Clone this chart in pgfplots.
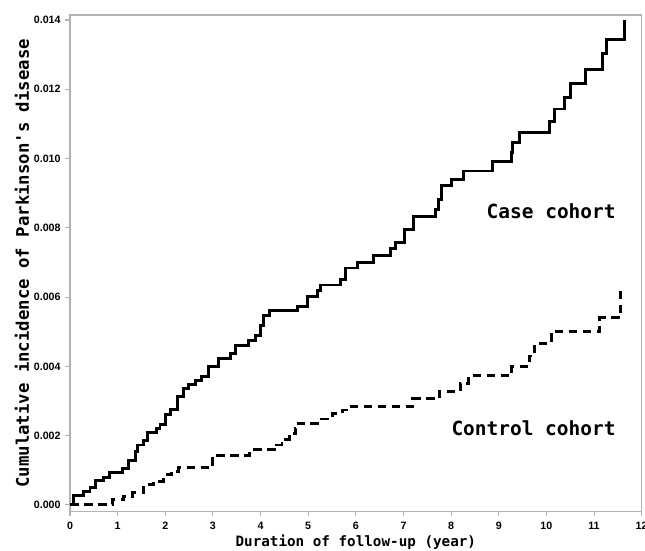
\documentclass[border=0pt]{standalone}
\usepackage{fontspec}
\setmainfont{Liberation Sans}
\newfontfamily\monob{DejaVu Sans Mono}[BoldFont={DejaVu Sans Mono Bold}]
\usepackage{pgfplots}
\pgfplotsset{compat=1.18}

\begin{document}
\begin{tikzpicture}
\begin{axis}[
    name=ax,
    scale only axis,
    width=428.8pt, height=372.5pt,
    xmin=0, xmax=12,
    ymin=-0.000193, ymax=0.014144,
    xtick={0,1,...,12},
    ytick={0,0.002,...,0.014},
    axis line style={draw=black!30, line width=0.8pt},
    tick style={draw=black!30, line width=0.8pt},
    tick align=outside,
    major tick length=3.5pt,
    xtick pos=bottom, ytick pos=left,
    ticklabel style={font=\fontsize{8}{9}\selectfont\bfseries},
    xticklabel style={yshift=-1pt},
    /pgf/number format/assume math mode=true,
    yticklabel style={/pgf/number format/.cd, fixed, fixed zerofill, precision=3},
    scaled y ticks=false,
    xlabel={Duration of follow-up (year)},
    ylabel={Cumulative incidence of Parkinson\textquotesingle s disease},
    xlabel style={font=\monob\bfseries\fontsize{10.7}{12}\selectfont,
        at={(axis description cs:0.5,0)}, anchor=center, yshift=-23pt},
    ylabel style={font=\monob\bfseries\fontsize{13}{15}\selectfont,
        at={(axis description cs:0,0.5)}, anchor=center, yshift=36pt},
    clip=false,
]
\addplot[const plot mark left, black, line width=2.2pt] coordinates {
(0,0) (0.07,0.00026) (0.28,0.00039) (0.42,0.00051) (0.54,0.00070)
(0.70,0.00079) (0.83,0.00094) (1.11,0.00106) (1.23,0.00129) (1.37,0.00154)
(1.42,0.00173) (1.54,0.00185) (1.63,0.00209) (1.81,0.00221) (1.89,0.00233)
(2.00,0.00260) (2.11,0.00275) (2.25,0.00312) (2.39,0.00336) (2.49,0.00348)
(2.63,0.00360) (2.77,0.00372) (2.91,0.00399) (3.12,0.00423) (3.37,0.00437)
(3.47,0.00461) (3.75,0.00475) (3.89,0.00490) (4.00,0.00517) (4.07,0.00547)
(4.18,0.00560) (4.77,0.00574) (4.98,0.00603) (5.19,0.00619) (5.25,0.00635)
(5.68,0.00650) (5.79,0.00684) (6.04,0.00700) (6.37,0.00720) (6.72,0.00739)
(6.84,0.00758) (7.03,0.00796) (7.22,0.00834) (7.68,0.00854) (7.73,0.00883)
(7.79,0.00921) (8.00,0.00940) (8.26,0.00964) (8.86,0.00991) (9.26,0.01017)
(9.29,0.01047) (9.43,0.01076) (10.06,0.01108) (10.17,0.01143) (10.38,0.01177)
(10.51,0.01216) (10.82,0.01258) (11.17,0.01304) (11.27,0.01345) (11.63,0.01400)
};
\addplot[const plot mark left, black, line width=2.2pt, dash pattern=on 6.5pt off 4pt] coordinates {
(0,0) (0.89,0.00015) (1.12,0.00025) (1.32,0.00036) (1.54,0.00058)
(1.75,0.00068) (1.96,0.00087) (2.14,0.00097) (2.28,0.00108) (3.00,0.00143)
(3.77,0.00159) (4.33,0.00173) (4.45,0.00190) (4.60,0.00205) (4.73,0.00221)
(4.79,0.00236) (5.19,0.00248) (5.51,0.00264) (5.72,0.00274) (5.86,0.00284)
(7.19,0.00306) (7.75,0.00327) (8.19,0.00351) (8.37,0.00373) (9.27,0.00399)
(9.64,0.00430) (9.75,0.00466) (10.10,0.00500) (11.12,0.00540) (11.55,0.00614)
(11.60,0.00614)
};
\node[font=\monob\bfseries\fontsize{14.6}{16}\selectfont] at (axis cs:10.1,0.00848) {Case cohort};
\node[font=\monob\bfseries\fontsize{14.6}{16}\selectfont] at (axis cs:9.73,0.00221) {Control cohort};
\end{axis}
\pgfresetboundingbox
\path ([shift={(-52.5pt,-29.5pt)}]ax.south west) rectangle ([shift={(2.5pt,11.25pt)}]ax.north east);
\end{tikzpicture}
\end{document}
